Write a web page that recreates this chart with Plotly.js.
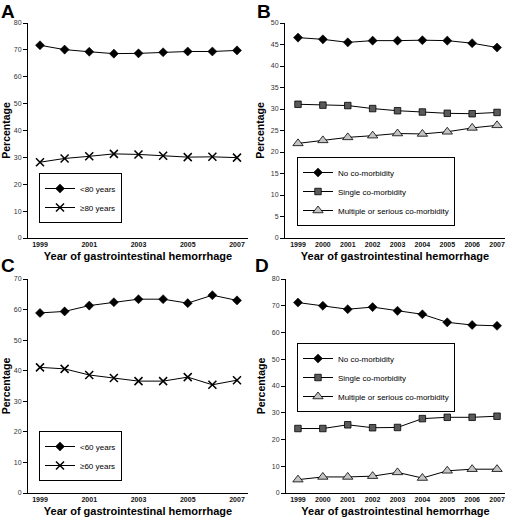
<!DOCTYPE html>
<html>
<head>
<meta charset="utf-8">
<script src="https://cdn.plot.ly/plotly-3.0.1.min.js"></script>
<style>html,body{margin:0;padding:0;background:#fff;}#chart{width:512px;height:520px;}</style>
</head>
<body>
<div id="chart"></div>
<script>
// ---- data ----
var years = [1999, 2000, 2001, 2002, 2003, 2004, 2005, 2006, 2007];

// Panel A: age split at 80 years
var aUnder80 = [71.7, 70.1, 69.3, 68.6, 68.7, 69.1, 69.4, 69.4, 69.8];
var aOver80  = [28.2, 29.6, 30.4, 31.3, 31.1, 30.6, 30.1, 30.2, 29.9];

// Panel B: co-morbidity (first group)
var bNone     = [46.6, 46.2, 45.5, 45.9, 45.9, 46.0, 45.9, 45.3, 44.3];
var bSingle   = [31.1, 30.9, 30.8, 30.1, 29.6, 29.3, 29.0, 28.9, 29.2];
var bMultiple = [22.0, 22.7, 23.4, 23.8, 24.3, 24.2, 24.7, 25.6, 26.2];

// Panel C: age split at 60 years
var cUnder60 = [58.9, 59.4, 61.3, 62.4, 63.4, 63.4, 62.1, 64.7, 63.0];
var cOver60  = [41.1, 40.6, 38.6, 37.6, 36.6, 36.6, 37.9, 35.4, 36.9];

// Panel D: co-morbidity (second group)
var dNone     = [71.2, 70.0, 68.7, 69.5, 68.1, 66.8, 63.8, 62.8, 62.5];
var dSingle   = [24.1, 24.1, 25.5, 24.4, 24.5, 27.8, 28.3, 28.3, 28.7];
var dMultiple = [5.0, 6.0, 6.0, 6.3, 7.7, 5.6, 8.3, 8.9, 8.9];

var ageLabelsA = ['<80 years', '\u226580 years'];
var ageLabelsC = ['<60 years', '\u226560 years'];
var comorbLabels = ['No co-morbidity', 'Single co-morbidity', 'Multiple or serious co-morbidity'];
var panelLetters = ['A', 'B', 'C', 'D'];
var xTitle = 'Year of gastrointestinal hemorrhage';
var yTitle = 'Percentage';

// ---- styles ----
var FONT = 'Arial, "Liberation Sans", Helvetica, sans-serif';
var lineStyle = {color: '#000', width: 1};
var diamond = {symbol: 'diamond', size: 7, color: '#000', line: {color: '#000', width: 0.5}};
var cross = {symbol: 'x-thin-open', size: 8, color: '#000', line: {color: '#000', width: 1.5}};
var square = {symbol: 'square', size: 6.5, color: '#5a5a5a', line: {color: '#000', width: 0.8}};
var triangle = {symbol: 'triangle-up', size: 9, color: '#c4c4c4', line: {color: '#000', width: 0.8}};

function tr(y, name, marker, xa, ya, lg) {
  return {x: years, y: y, name: name, type: 'scatter', mode: 'lines+markers',
    line: lineStyle, marker: marker, xaxis: xa, yaxis: ya, legend: lg, cliponaxis: false};
}

var data = [
  tr(aUnder80, ageLabelsA[0], diamond, 'x', 'y', 'legend'),
  tr(aOver80, ageLabelsA[1], cross, 'x', 'y', 'legend'),
  tr(bNone, comorbLabels[0], diamond, 'x2', 'y2', 'legend2'),
  tr(bSingle, comorbLabels[1], square, 'x2', 'y2', 'legend2'),
  tr(bMultiple, comorbLabels[2], triangle, 'x2', 'y2', 'legend2'),
  tr(cUnder60, ageLabelsC[0], diamond, 'x3', 'y3', 'legend3'),
  tr(cOver60, ageLabelsC[1], cross, 'x3', 'y3', 'legend3'),
  tr(dNone, comorbLabels[0], diamond, 'x4', 'y4', 'legend4'),
  tr(dSingle, comorbLabels[1], square, 'x4', 'y4', 'legend4'),
  tr(dMultiple, comorbLabels[2], triangle, 'x4', 'y4', 'legend4')
];

var W = 512, H = 520;
function px(v) { return v / W; }
function py(v) { return (H - v) / H; }

function xax(domL, domR, range, dtick) {
  return {domain: [px(domL), px(domR)], range: range, tickmode: 'linear', tick0: 1999, dtick: dtick,
    showline: true, linecolor: '#000', linewidth: 1, ticks: '', showgrid: false, zeroline: false,
    tickfont: {family: FONT, size: 7, color: '#111', weight: 'bold'},
    title: {text: xTitle, font: {family: FONT, size: 11, color: '#000', weight: 'bold'}, standoff: 4},
    automargin: false, fixedrange: true};
}
function yax(top, bottom, max, dtick) {
  return {domain: [py(bottom), py(top)], range: [0, max], dtick: dtick, tick0: 0,
    showline: true, linecolor: '#000', linewidth: 1, ticks: 'outside', ticklen: 4, tickwidth: 1, tickcolor: '#000',
    showgrid: false, zeroline: false,
    tickfont: {family: FONT, size: 7, color: '#333'},
    title: {text: yTitle, font: {family: FONT, size: 10.5, color: '#000', weight: 'bold'}, standoff: 4},
    automargin: false, fixedrange: true};
}
function legendAt(x, y, yanchor) {
  return {x: x, y: y, xanchor: 'left', yanchor: yanchor, xref: 'paper', yref: 'paper',
    bgcolor: '#fff', bordercolor: '#000', borderwidth: 1,
    font: {family: FONT, size: 8, color: '#000'}, itemclick: false, itemdoubleclick: false};
}

var annotations = [];
var letterPos = [[0, 0], [256, 0], [0, 254], [254, 254]];
for (var i = 0; i < panelLetters.length; i++) {
  annotations.push({text: '<b>' + panelLetters[i] + '</b>', xref: 'paper', yref: 'paper',
    x: px(letterPos[i][0]), y: py(letterPos[i][1]), xanchor: 'left', yanchor: 'top', showarrow: false,
    font: {family: FONT, size: 19, color: '#000'}, borderpad: 0});
}

var layout = {
  width: W, height: H, margin: {l: 0, r: 0, t: 0, b: 0},
  paper_bgcolor: '#fff', plot_bgcolor: 'rgba(0,0,0,0)',
  font: {family: FONT},
  showlegend: true,
  xaxis: xax(28, 248, [1998.513, 2007.447], 2),
  yaxis: yax(23, 238, 80, 10),
  xaxis2: xax(285, 505, [1998.477, 2007.32], 1),
  yaxis2: yax(23, 238, 50, 5),
  xaxis3: xax(28, 248, [1998.513, 2007.447], 2),
  yaxis3: yax(279, 493, 70, 10),
  xaxis4: xax(286, 505, [1998.52, 2007.32], 1),
  yaxis4: yax(279, 493, 80, 10),
  legend: legendAt(px(39), py(223), 'bottom'),
  legend2: legendAt(px(297), py(226), 'bottom'),
  legend3: legendAt(px(39), py(481), 'bottom'),
  legend4: legendAt(px(297), py(343), 'top'),
  annotations: annotations
};
layout.xaxis.anchor = 'y';   layout.yaxis.anchor = 'x';
layout.xaxis2.anchor = 'y2'; layout.yaxis2.anchor = 'x2';
layout.xaxis3.anchor = 'y3'; layout.yaxis3.anchor = 'x3';
layout.xaxis4.anchor = 'y4'; layout.yaxis4.anchor = 'x4';

Plotly.newPlot('chart', data, layout, {displayModeBar: false, staticPlot: true});
</script>
</body>
</html>
